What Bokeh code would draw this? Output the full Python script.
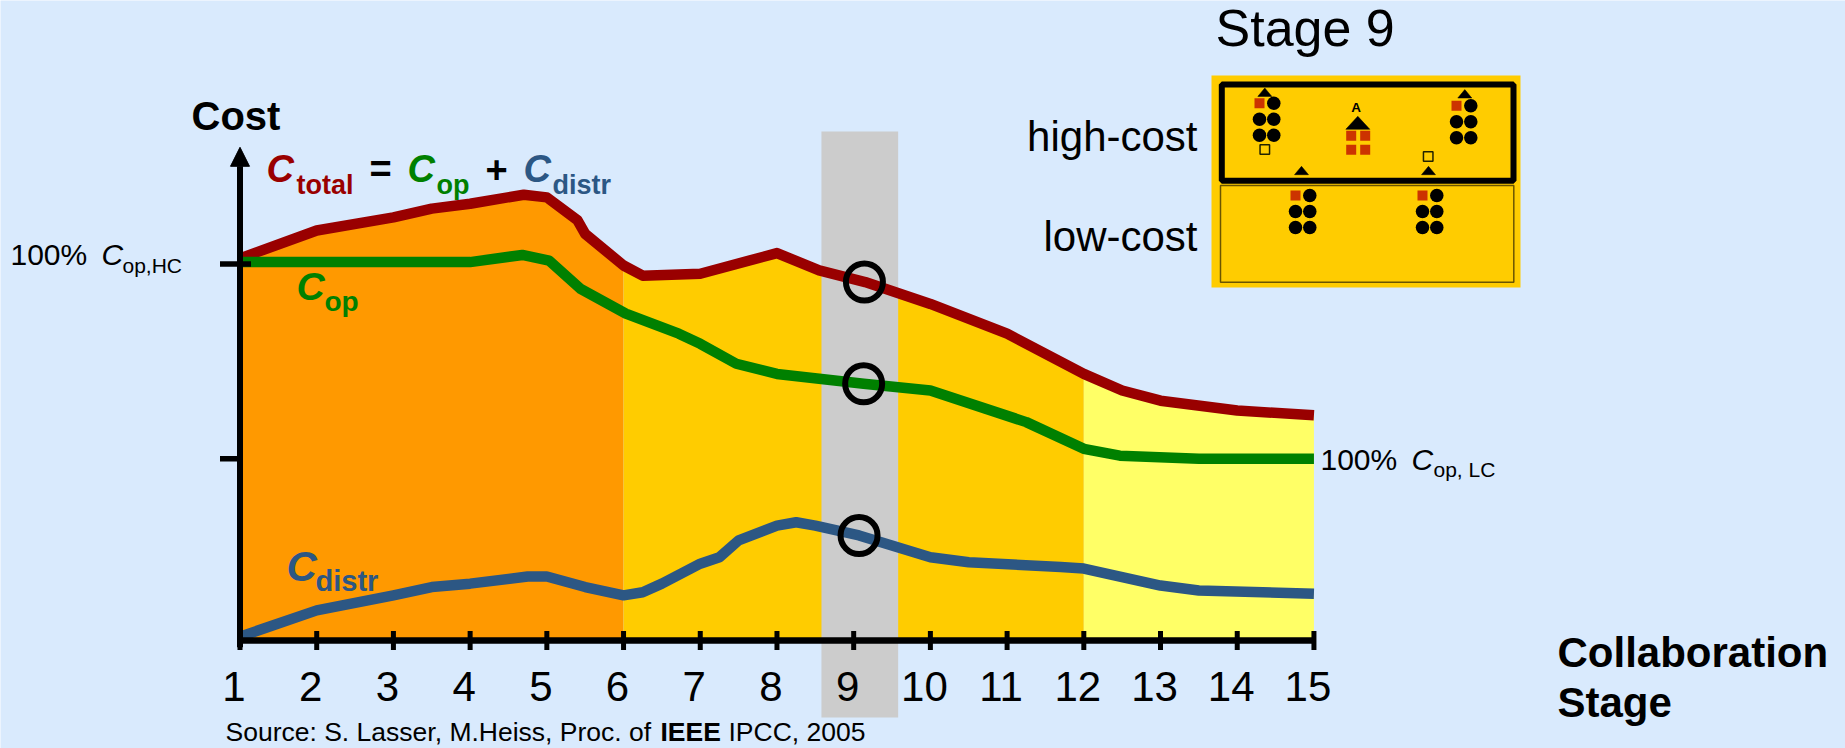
import math
import numpy as np
from bokeh.plotting import figure
from bokeh.models import Range1d, Arrow, NormalHead
from bokeh.core.properties import value
from bokeh.embed import file_html
from bokeh.resources import INLINE

# ------------------------------------------------------------------ data
stages = list(range(1, 16))
tick_labels = [str(s) for s in stages]

# total cost C_total (100 = 100 % C_op,HC)
total_x = [1, 2, 3, 3.5, 4, 4.7, 5, 5.4, 5.5, 6, 6.25, 7, 8, 8.55, 9.15, 10, 11, 12, 12.5, 13, 14, 15]
total_y = [101.5, 108.9, 112.4, 114.7, 116.0, 118.4, 117.7, 111.6, 108.0, 99.6, 96.9, 97.4,
           102.9, 98.3, 95.2, 89.4, 81.5, 70.8, 66.4, 63.7, 61.1, 59.8]

# operating cost C_op
op_x = [1, 4, 4.68, 5.03, 5.44, 6.03, 6.72, 7, 7.47, 8, 9.13, 10, 11.25, 12, 12.47, 13.5, 15]
op_y = [100.5, 100.5, 102.4, 100.9, 93.4, 86.8, 81.5, 78.8, 73.5, 70.8, 68.2, 66.4, 58.0,
        50.9, 49.1, 48.3, 48.3]

# distribution cost C_distr
distr_x = [1, 2, 3, 3.5, 4, 4.75, 5, 5.5, 6, 6.25, 6.5, 7, 7.25, 7.5, 8, 8.25, 8.5, 9.07,
           10, 10.5, 11.7, 12, 13, 13.5, 15]
distr_y = [1.0, 8.0, 12.0, 14.2, 15.1, 17.0, 17.0, 14.2, 12.0, 12.8, 15.1, 20.4, 22.1, 26.6,
           30.5, 31.4, 30.5, 27.9, 22.1, 20.8, 19.5, 19.1, 14.6, 13.3, 12.4]

phase_bounds = [1, 6, 12, 15]          # stage ranges of the three coloured phases
highlight_x = [8.58, 9.58]              # highlighted stage 9
marker_x = [9.14, 9.13, 9.07]           # circled values at stage 9
marker_y = [95.2, 68.2, 27.9]
level_ticks = [100, 48.3]               # 100 % C_op,HC and 100 % C_op,LC

# ------------------------------------------------------------------ style
W, H = 1845, 748
BG = "#D9EAFD"
PHASE_COLORS = ["#FF9900", "#FFCC00", "#FFFF66"]
GRAY = "#CCCCCC"
RED, GREEN, BLUE = "#990000", "#008000", "#2C5784"
INSET_GOLD, INSET_RED = "#FFCC00", "#CC3300"
FONT = "Liberation Sans"
BASE_FIX = 0.37                    # baseline calibration of the svg text renderer (em)

X0_PX, X_STEP = 239.5, 76.71      # pixel of stage 1, pixels per stage
Y0_PX, Y_STEP = 640.0, 3.765      # pixel of cost 0, pixels per cost unit

p = figure(width=W, height=H, output_backend="svg", toolbar_location=None,
           x_range=Range1d(1 - X0_PX / X_STEP, 1 + (W - X0_PX) / X_STEP),
           y_range=Range1d((Y0_PX - H) / Y_STEP, Y0_PX / Y_STEP),
           x_axis_location=None, y_axis_location=None, min_border=0, title=None,
           background_fill_color=BG, border_fill_color=BG, outline_line_color=None)
p.grid.visible = False
p.extra_x_ranges = {"px": Range1d(0, W), "inset": Range1d(-1211, W - 1211)}
p.extra_y_ranges = {"px": Range1d(H, 0), "inset": Range1d(H - 75, -75)}
PX = dict(x_range_name="px", y_range_name="px")
INS = dict(x_range_name="inset", y_range_name="inset")

# ---- phase fills under the total-cost curve
tx, ty = np.array(total_x), np.array(total_y)
for a, b, col in zip(phase_bounds[:-1], phase_bounds[1:], PHASE_COLORS):
    m = (tx >= a) & (tx <= b)
    p.varea(x=tx[m], y1=0, y2=ty[m], fill_color=col)

# ---- highlighted stage band
p.quad(left=[highlight_x[0]], right=[highlight_x[1]], top=[131], bottom=[717],
       fill_color=GRAY, line_color=None, y_range_name="px")

# ---- cost curves
for xs, ys, col in [(total_x, total_y, RED), (op_x, op_y, GREEN), (distr_x, distr_y, BLUE)]:
    p.line(xs, ys, line_color=col, line_width=10.5, line_join="round", line_cap="butt")

p.scatter(x=marker_x, y=marker_y, marker="circle", size=37, fill_color=None,
          line_color="black", line_width=6)

# ---- axes
p.line([stages[0], stages[-1]], [0, 0], line_color="black", line_width=6.5)
p.scatter(x=stages, y=[0] * len(stages), marker="dash", angle=math.pi / 2, size=19,
          line_color="black", line_width=5)
p.add_layout(Arrow(end=NormalHead(size=19, fill_color="black", line_color="black"),
                   x_start=stages[0], y_start=-1.8, x_end=stages[0], y_end=131,
                   line_color="black", line_width=6))
p.ray(x=[stages[0]] * len(level_ticks), y=level_ticks, length=20, angle=math.pi,
      length_units="screen", line_color="black", line_width=5.5)
p.ray(x=[stages[0]], y=[level_ticks[0]], length=11, angle=0,
      length_units="screen", line_color="black", line_width=5.5)
p.text(x=stages, y=[0] * len(stages), text=tick_labels, x_offset=-6,
       y_offset=62 - BASE_FIX * 42,
       text_align="center", text_baseline="alphabetic", text_font=value(FONT),
       text_font_size=value("42px"), text_color="black")


def txt(x, y, s, size, color="black", style="normal", align="left", rn=PX):
    p.text(x=[x], y=[y], text=[s], y_offset=-BASE_FIX * size,
           text_font=value(FONT), text_font_size=value(f"{size}px"),
           text_font_style=style, text_color=color, text_align=align,
           text_baseline="alphabetic", **rn)


# ---- texts
txt(191, 130, "Cost", 40, style="bold")
txt(266, 183, "C", 38, RED, "bold italic")
txt(296, 194, "total", 27, RED, "bold")
txt(380, 183, "=", 38, "black", "bold", "center")
txt(407, 183, "C", 38, GREEN, "bold italic")
txt(436, 194, "op", 27, GREEN, "bold")
txt(496, 183, "+", 38, "black", "bold", "center")
txt(523, 183, "C", 38, BLUE, "bold italic")
txt(552, 194, "distr", 27, BLUE, "bold")

txt(296, 300, "C", 39, GREEN, "bold italic")
txt(324, 311, "op", 28, GREEN, "bold")
txt(286, 582, "C", 42, BLUE, "bold italic")
txt(315, 591, "distr", 29, BLUE, "bold")

txt(10, 265, "100%", 30)
txt(101, 265, "C", 30, style="italic")
txt(122, 273, "op,HC", 21)
txt(1320, 470, "100%", 30)
txt(1411, 470, "C", 30, style="italic")
txt(1433, 477, "op, LC", 21)

txt(1557, 668, "Collaboration", 42, style="bold")
txt(1557, 718, "Stage", 42, style="bold")

txt(225, 741, "Source: S. Lasser, M.Heiss, Proc. of", 26.5)
txt(660, 741, "IEEE", 26.5, style="bold")
txt(728, 741, "IPCC, 2005", 26.5)

txt(1215, 47, "Stage 9", 52)
txt(1197, 152, "high-cost", 42, align="right")
txt(1197, 252, "low-cost", 42, align="right")

# ---- stage-9 pictogram (local pixel frame of the inset)
p.quad(left=[0], right=[309], top=[0], bottom=[212], fill_color=INSET_GOLD, line_color=None, **INS)
p.quad(left=[10.3], right=[302], top=[9], bottom=[105.3], fill_color=None,
       line_color="black", line_width=6, **INS)
p.quad(left=[9], right=[302.3], top=[110], bottom=[206.7], fill_color=None,
       line_color="#6B5500", line_width=1.5, **INS)

site_origins = [(48, 27.7), (245, 30.3), (84, 120), (211, 120)]
circle_offsets = [(14.3, 0), (0, 16), (14.3, 16), (0, 32), (14.3, 32)]
cx = [ox + dx for ox, oy in site_origins for dx, dy in circle_offsets]
cy = [oy + dy for ox, oy in site_origins for dx, dy in circle_offsets]
p.scatter(x=cx, y=cy, marker="circle", size=13.5, fill_color="black", line_color=None, **INS)
sq_x = [o[0] for o in site_origins] + [139.7, 153.7, 139.7, 153.7]
sq_y = [o[1] for o in site_origins] + [60.3, 60.3, 74.3, 74.3]
p.scatter(x=sq_x, y=sq_y, marker="square", size=10, fill_color=INSET_RED, line_color=None, **INS)
p.scatter(x=[53.3, 216.7], y=[74, 81], marker="square", size=9.5, fill_color=None,
          line_color="#222200", line_width=1.5, **INS)

tri_centers = [(53.3, 16.7, 7, 4.2), (253.3, 18.3, 7, 4.2), (90, 95, 7, 4.2),
               (217, 95, 7, 4.2), (146.3, 47.3, 12, 6.5)]
p.patches(xs=[[x - hw, x + hw, x] for x, y, hw, hh in tri_centers],
          ys=[[y + hh, y + hh, y - hh] for x, y, hw, hh in tri_centers],
          fill_color="black", line_color="black", line_width=0.5, **INS)
txt(144.5, 37.3, "A", 13.5, style="bold", align="center", rn=INS)

open("out.html", "w").write(file_html(p, INLINE))
